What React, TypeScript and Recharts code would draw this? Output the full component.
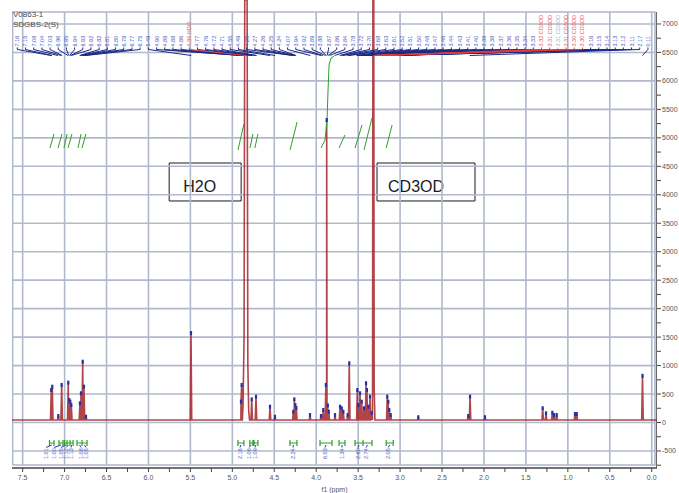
import React from "react";
import { ComposedChart, Line, Scatter, XAxis, YAxis, ReferenceArea } from "recharts";

const FONT = "'Liberation Sans', Arial, sans-serif";
const CHART_W = 679;
const CHART_H = 493;
const X_DOMAIN: [number, number] = [-0.063, 7.627];
const Y_DOMAIN: [number, number] = [-799, 7421];
const FRAME_LEFT_PPM = 7.62;
const FRAME_RIGHT_PPM = -0.039;
const FRAME_TOP = 7211;
const FRAME_BOTTOM = -746;

const TITLE_LINES = ["V0863-1", "SDGBS-2(S)"];

const X_TICKS = [0, 0.25, 0.5, 0.75, 1, 1.25, 1.5, 1.75, 2, 2.25, 2.5, 2.75, 3, 3.25, 3.5, 3.75, 4, 4.25, 4.5, 4.75, 5, 5.25, 5.5, 5.75, 6, 6.25, 6.5, 6.75, 7, 7.25, 7.5];
const Y_TICKS = [-750, -500, -250, 0, 250, 500, 750, 1000, 1250, 1500, 1750, 2000, 2250, 2500, 2750, 3000, 3250, 3500, 3750, 4000, 4250, 4500, 4750, 5000, 5250, 5500, 5750, 6000, 6250, 6500, 6750, 7000];
const GRID_X = [0, 0.5, 1, 1.5, 2, 2.5, 3, 3.5, 4, 4.5, 5, 5.5, 6, 6.5, 7, 7.5];
const GRID_Y = [-500, 0, 500, 1000, 1500, 2000, 2500, 3000, 3500, 4000, 4500, 5000, 5500, 6000, 6500, 7000];

const BASELINE = 44;
const PEAK_PPM = [7.159, 7.147, 7.075, 7.035, 6.956, 6.944, 6.932, 6.920, 6.817, 6.805, 6.784, 6.769, 6.745,
  5.493,
  4.897, 4.889,
  4.769, 4.718, 4.551, 4.492,
  4.273, 4.261, 4.249, 4.237,
  4.074,
  3.943, 3.916, 3.885, 3.875, 3.862, 3.850,
  3.776, 3.716, 3.696, 3.677, 3.625, 3.606,
  3.510, 3.498, 3.478, 3.458, 3.430, 3.406, 3.395, 3.379, 3.359, 3.339,
  3.153, 3.141, 3.129, 3.112,
  2.783, 2.187, 2.166, 1.988,
  1.300, 1.260, 1.185, 1.165, 1.133,
  0.915, 0.894,
  0.110];
const PEAK_INT = [571, 629, 114, 660, 700, 395, 366, 307, 337, 513, 1068, 629, 102,
  1572,
  366, 660,
  407, 453, 278, 100,
  190, 407, 307, 255,
  131,
  114, 220, 660, 5313, 300, 190,
  131, 278, 250, 190, 131, 1040,
  571, 307, 513, 366, 250, 689, 571, 278, 454, 167,
  454, 366, 220, 131,
  91, 114, 454, 91,
  250, 161, 172, 131, 131,
  149, 149,
  820];

const SOLVENT_PPM = [4.872, 4.860, 4.852, 4.824, 4.815, 4.805, 4.795, 3.328, 3.324, 3.314, 3.309, 3.300];
const SOLVENT_INT = [337, 1500, 7421, 7421, 1000, 200, 44, 600, 7421, 7421, 600, 44];

const INTEGRAL_CURVES: number[][][] = [
  [[7.174, 4822], [7.126, 5068]],
  [[7.078, 4822], [7.031, 5068]],
  [[7.007, 4822], [6.971, 5068]],
  [[6.959, 4822], [6.912, 5068]],
  [[6.840, 4822], [6.804, 5068]],
  [[6.792, 4822], [6.745, 5068]],
  [[4.933, 4787], [4.862, 5243]],
  [[4.790, 4822], [4.754, 5068]],
  [[4.731, 4822], [4.695, 5068]],
  [[4.312, 4787], [4.228, 5278]],
  [[3.943, 4822], [3.895, 4962], [3.871, 5313], [3.859, 5840], [3.847, 6280], [3.823, 6403], [3.787, 6438]],
  [[3.728, 4822], [3.657, 5050]],
  [[3.537, 4822], [3.454, 5226]],
  [[3.430, 4787], [3.335, 5349]],
  [[3.166, 4822], [3.095, 5226]],
];

const INT_FROM = [7.180, 7.067, 7.001, 6.971, 6.935, 6.852, 6.792, 4.933, 4.791, 4.742, 4.313, 3.955, 3.728, 3.537, 3.442, 3.166];
const INT_TO = [7.126, 7.019, 6.971, 6.935, 6.899, 6.792, 6.732, 4.862, 4.754, 4.695, 4.230, 3.812, 3.657, 3.442, 3.335, 3.082];
const INT_LABEL_AT = [7.222, 7.126, 7.043, 6.983, 6.924, 6.804, 6.745, 4.909, 4.803, 4.731, 4.277, 3.895, 3.693, 3.501, 3.406, 3.142];
const INT_TEXT = ["1.01", "1.00", "1.05", "1.12", "1.13", "1.08", "1.05", "2.16", "1.06", "1.09", "2.24", "6.03", "1.34", "2.60", "2.74", "2.05"];

const PEAK_LABEL_PPM = [7.16, 7.15, 7.08, 7.04, 7.03, 6.96, 6.95, 6.94, 6.93, 6.92, 6.82, 6.81, 6.80, 6.78, 6.77, 6.75,
  5.49, 4.90, 4.89, 4.88, 4.86, 4.84,
  4.77, 4.76, 4.72, 4.71, 4.55, 4.49, 4.28, 4.27, 4.26, 4.25, 4.24, 4.07,
  3.94, 3.92, 3.89, 3.88, 3.87, 3.86, 3.84, 3.78, 3.72, 3.70, 3.68, 3.63, 3.61,
  3.52, 3.51, 3.50, 3.48, 3.47, 3.46, 3.44, 3.43, 3.41, 3.40, 3.39, 3.38, 3.37, 3.36, 3.35, 3.34, 3.33,
  3.32, 3.31, 3.31, 3.31, 3.30, 3.30,
  3.16, 3.15, 3.14, 3.13, 3.12, 3.11, 2.17, 0.11];
const PEAK_LABEL_KIND = PEAK_LABEL_PPM.map((_, i) =>
  i === 21 || (i >= 64 && i <= 69 && i !== 66) ? "red" : i === 66 ? "grey" : "blue");
const PEAK_LABEL_TEXT = PEAK_LABEL_PPM.map((p, i) =>
  i === 21 ? p.toFixed(2) + " HDO" : PEAK_LABEL_KIND[i] !== "blue" ? p.toFixed(2) + " CD3OD" : p.toFixed(2));

const LABEL_COLORS: Record<string, string> = { blue: "#4a5ac4", red: "#ec5a5e", grey: "#aab2c6" };
const LEADER_COLORS: Record<string, string> = { blue: "#1c2a86", red: "#e03a3a", grey: "#aab2c6" };
const SLOT0 = 7.564;
const SLOT_STEP = 0.09765;

const GRID_V_COLOR = "#b0b8cc";
const GRID_H_COLOR = "#b2b9cb";
const FRAME_COLOR = "#aeb6ca";

const HW = 0.009;
const spectrumRows = [
  ...PEAK_PPM.flatMap((p, i) => [
    { x: p + HW, y: BASELINE },
    { x: p, y: PEAK_INT[i] },
    { x: p - HW, y: BASELINE },
  ]),
  ...SOLVENT_PPM.map((p, i) => ({ x: p, y: SOLVENT_INT[i] })),
  { x: X_DOMAIN[1], y: BASELINE },
  { x: X_DOMAIN[0], y: BASELINE },
].sort((a, b) => b.x - a.x);

const markerRows = PEAK_PPM.map((p, i) => ({ x: p, y: PEAK_INT[i] }));

const integralRows = INTEGRAL_CURVES.flatMap((c) => [
  ...c.map(([x, y]) => ({ x, y })),
  { x: c[c.length - 1][0], y: null as number | null },
]);

const bracketRows = INT_FROM.flatMap((a, i) => {
  const b = INT_TO[i];
  return [
    { x: a, y: -307 }, { x: a, y: -413 }, { x: a, y: null as number | null },
    { x: a, y: -360 }, { x: b, y: -360 }, { x: b, y: null as number | null },
    { x: b, y: -307 }, { x: b, y: -413 }, { x: b, y: null as number | null },
  ];
});
const bracketLeaderRows = INT_FROM.flatMap((a, i) => [
  { x: (a + INT_TO[i]) / 2, y: -395 },
  { x: INT_LABEL_AT[i], y: -439 },
  { x: INT_LABEL_AT[i], y: null as number | null },
]);
const bracketLabelRows = INT_LABEL_AT.map((x, i) => ({ x, y: -641, text: INT_TEXT[i], color: "#4a5ac4" }));

const topLabelRows = PEAK_LABEL_TEXT.map((t, i) => ({
  x: SLOT0 - i * SLOT_STEP,
  y: 6605,
  text: t,
  color: LABEL_COLORS[PEAK_LABEL_KIND[i]],
}));
const leaderRows = (kind: string) =>
  PEAK_LABEL_PPM.flatMap((p, i) => {
    if (PEAK_LABEL_KIND[i] !== kind) return [];
    const s = SLOT0 - i * SLOT_STEP;
    return [
      { x: s, y: 6587 },
      { x: s, y: 6552 },
      { x: p, y: 6446 },
      { x: p, y: null as number | null },
    ];
  });

const frameRows = [
  { x: FRAME_LEFT_PPM, y: FRAME_BOTTOM },
  { x: FRAME_LEFT_PPM, y: FRAME_TOP },
  { x: FRAME_RIGHT_PPM, y: FRAME_TOP },
  { x: FRAME_RIGHT_PPM, y: FRAME_BOTTOM },
  { x: FRAME_LEFT_PPM, y: FRAME_BOTTOM },
];
const rightAxisRows = [
  { x: X_DOMAIN[0], y: Y_DOMAIN[0] },
  { x: X_DOMAIN[0], y: FRAME_TOP },
];

const VLabel = (props: any) => {
  const { cx, cy, payload } = props;
  if (cx == null || cy == null) return <g />;
  return (
    <text
      x={cx}
      y={cy}
      transform={`rotate(-90 ${cx} ${cy})`}
      fontSize={5.5}
      fill={payload.color}
      dominantBaseline="central"
      textAnchor="start"
      fontFamily={FONT}
    >
      {payload.text}
    </text>
  );
};

const Marker = (props: any) => {
  const { cx, cy } = props;
  if (cx == null || cy == null) return <g />;
  return <rect x={cx - 1.1} y={cy - 2} width={2.2} height={4} fill="#2232a8" />;
};

const boxLabel = (text: string, dx: number) => (props: any) => {
  const vb = props.viewBox || {};
  return (
    <text x={vb.x + dx} y={vb.y + vb.height / 2 + 10} fontSize={16} fill="#1a1a1a" fontFamily={FONT}>
      {text}
    </text>
  );
};

const xTickFmt = (v: number) => (Math.abs(v * 2 - Math.round(v * 2)) < 1e-6 ? v.toFixed(1) : "");
const yTickFmt = (v: number) => (v % 500 === 0 ? String(v) : "");

const seg = (rows: { x: number; y: number | null }[], key: string, color: string, w = 1.5) => (
  <Line key={key} data={rows} dataKey="y" type="linear" stroke={color} strokeWidth={w} dot={false} isAnimationActive={false} />
);

export default function App() {
  return (
    <div style={{ position: "absolute", left: 0, top: 0, width: CHART_W, height: CHART_H, background: "#fff" }}>
      <div
        style={{
          position: "absolute",
          left: 13,
          top: 10,
          fontSize: 8,
          lineHeight: "10px",
          color: "#4a4a4a",
          fontFamily: FONT,
          zIndex: 2,
        }}
      >
        {TITLE_LINES.map((t) => (
          <div key={t}>{t}</div>
        ))}
      </div>
      <ComposedChart width={CHART_W} height={CHART_H} margin={{ top: 0, right: 0, bottom: 0, left: 12 }}>
        <XAxis
          type="number"
          dataKey="x"
          domain={X_DOMAIN}
          allowDataOverflow
          reversed
          ticks={X_TICKS}
          interval={0}
          tickFormatter={xTickFmt}
          height={25}
          tickSize={4}
          tickMargin={3}
          axisLine={{ stroke: "#444", strokeWidth: 1.5 }}
          tickLine={{ stroke: "#444" }}
          tick={{ fontSize: 7, fill: "#555", fontFamily: FONT }}
          label={{ value: "f1 (ppm)", position: "insideBottom", offset: 1, fontSize: 7, fill: "#555", fontFamily: FONT }}
        />
        <YAxis
          type="number"
          orientation="right"
          domain={Y_DOMAIN}
          allowDataOverflow
          ticks={Y_TICKS}
          interval={0}
          tickFormatter={yTickFmt}
          width={22}
          tickSize={4}
          tickMargin={1}
          axisLine={false}
          tickLine={{ stroke: "#444" }}
          tick={{ fontSize: 7, fill: "#555", fontFamily: FONT, textAnchor: "start" }}
        />
        {GRID_X.map((g) => seg([{ x: g, y: FRAME_BOTTOM }, { x: g, y: FRAME_TOP }], "gx" + g, GRID_V_COLOR, 1.6))}
        {GRID_Y.map((g) => seg([{ x: FRAME_LEFT_PPM, y: g }, { x: FRAME_RIGHT_PPM, y: g }], "gy" + g, GRID_H_COLOR, 1.6))}
        {seg(frameRows, "frame", FRAME_COLOR, 1.6)}
        {seg(rightAxisRows, "ra", "#444", 1.6)}
        <ReferenceArea
          x1={5.753}
          x2={4.895}
          y1={3891}
          y2={4558}
          fill="#ffffff"
          fillOpacity={1}
          stroke="#1a1a1a"
          strokeWidth={1}
          ifOverflow="visible"
          label={boxLabel("H2O", 14)}
        />
        <ReferenceArea
          x1={3.275}
          x2={2.107}
          y1={3891}
          y2={4558}
          fill="#ffffff"
          fillOpacity={1}
          stroke="#1a1a1a"
          strokeWidth={1}
          ifOverflow="visible"
          label={boxLabel("CD3OD", 11)}
        />
        <Line data={spectrumRows} dataKey="y" type="linear" stroke="#a3262a" strokeOpacity={0.85} strokeWidth={1.6} dot={false} isAnimationActive={false} />
        <Scatter data={markerRows} dataKey="y" shape={Marker} isAnimationActive={false} />
        <Line data={integralRows} dataKey="y" type="linear" stroke="#2e9e2e" strokeWidth={1} dot={false} isAnimationActive={false} />
        <Line data={bracketRows} dataKey="y" type="linear" stroke="#2e9e2e" strokeWidth={1.2} dot={false} isAnimationActive={false} />
        <Line data={bracketLeaderRows} dataKey="y" type="linear" stroke="#2a3aa8" strokeWidth={1} dot={false} isAnimationActive={false} />
        <Scatter data={bracketLabelRows} dataKey="y" shape={VLabel} isAnimationActive={false} />
        <Line data={leaderRows("blue")} dataKey="y" type="linear" stroke={LEADER_COLORS.blue} strokeWidth={1} dot={false} isAnimationActive={false} />
        <Line data={leaderRows("grey")} dataKey="y" type="linear" stroke={LEADER_COLORS.grey} strokeWidth={1} dot={false} isAnimationActive={false} />
        <Line data={leaderRows("red")} dataKey="y" type="linear" stroke={LEADER_COLORS.red} strokeWidth={1} dot={false} isAnimationActive={false} />
        <Scatter data={topLabelRows} dataKey="y" shape={VLabel} isAnimationActive={false} />
      </ComposedChart>
    </div>
  );
}
